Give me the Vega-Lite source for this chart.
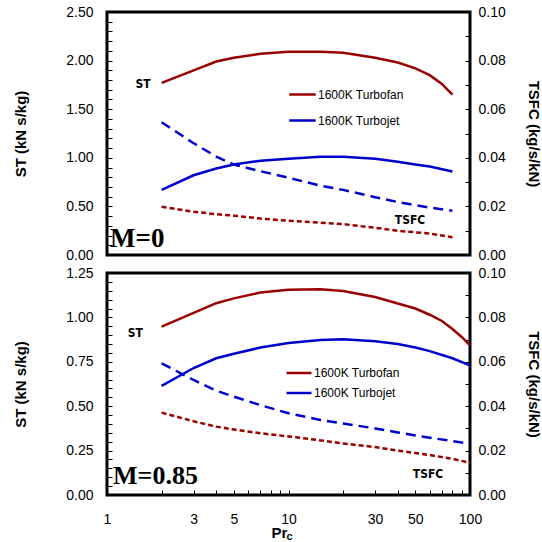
{
  "$schema": "https://vega.github.io/schema/vega-lite/v6.json",
  "padding": {"left": 12, "top": 3, "right": 0, "bottom": 0},
  "spacing": 0,
  "resolve": {"legend": {"color": "independent"}},
  "config": {
    "view": {"stroke": "black", "strokeWidth": 3},
    "axis": {"labelFont": "Liberation Sans", "labelFontSize": 14, "labelColor": "#000", "titleFont": "Liberation Sans", "titleFontSize": 15, "titleFontWeight": "bold", "titleColor": "#000", "grid": false, "domain": false, "tickColor": "#000", "tickSize": -5, "tickWidth": 1}
  },
  "datasets": {
    "d": [
      {"p": "top", "s": "1600K Turbofan", "m": "ST", "x": 2, "v": 1.77},
      {"p": "top", "s": "1600K Turbofan", "m": "ST", "x": 3, "v": 1.9},
      {"p": "top", "s": "1600K Turbofan", "m": "ST", "x": 4, "v": 1.99},
      {"p": "top", "s": "1600K Turbofan", "m": "ST", "x": 5, "v": 2.03},
      {"p": "top", "s": "1600K Turbofan", "m": "ST", "x": 7, "v": 2.07},
      {"p": "top", "s": "1600K Turbofan", "m": "ST", "x": 10, "v": 2.09},
      {"p": "top", "s": "1600K Turbofan", "m": "ST", "x": 15, "v": 2.09},
      {"p": "top", "s": "1600K Turbofan", "m": "ST", "x": 20, "v": 2.08},
      {"p": "top", "s": "1600K Turbofan", "m": "ST", "x": 30, "v": 2.03},
      {"p": "top", "s": "1600K Turbofan", "m": "ST", "x": 40, "v": 1.98},
      {"p": "top", "s": "1600K Turbofan", "m": "ST", "x": 50, "v": 1.92},
      {"p": "top", "s": "1600K Turbofan", "m": "ST", "x": 60, "v": 1.85},
      {"p": "top", "s": "1600K Turbofan", "m": "ST", "x": 70, "v": 1.76},
      {"p": "top", "s": "1600K Turbofan", "m": "ST", "x": 80, "v": 1.65},
      {"p": "top", "s": "1600K Turbojet", "m": "ST", "x": 2, "v": 0.67},
      {"p": "top", "s": "1600K Turbojet", "m": "ST", "x": 3, "v": 0.82},
      {"p": "top", "s": "1600K Turbojet", "m": "ST", "x": 4, "v": 0.89},
      {"p": "top", "s": "1600K Turbojet", "m": "ST", "x": 5, "v": 0.93},
      {"p": "top", "s": "1600K Turbojet", "m": "ST", "x": 7, "v": 0.97},
      {"p": "top", "s": "1600K Turbojet", "m": "ST", "x": 10, "v": 0.99},
      {"p": "top", "s": "1600K Turbojet", "m": "ST", "x": 15, "v": 1.01},
      {"p": "top", "s": "1600K Turbojet", "m": "ST", "x": 20, "v": 1.01},
      {"p": "top", "s": "1600K Turbojet", "m": "ST", "x": 30, "v": 0.99},
      {"p": "top", "s": "1600K Turbojet", "m": "ST", "x": 40, "v": 0.96},
      {"p": "top", "s": "1600K Turbojet", "m": "ST", "x": 50, "v": 0.93},
      {"p": "top", "s": "1600K Turbojet", "m": "ST", "x": 60, "v": 0.91},
      {"p": "top", "s": "1600K Turbojet", "m": "ST", "x": 80, "v": 0.86},
      {"p": "top", "s": "1600K Turbojet", "m": "TSFC", "x": 2, "v": 0.0546},
      {"p": "top", "s": "1600K Turbojet", "m": "TSFC", "x": 3, "v": 0.046},
      {"p": "top", "s": "1600K Turbojet", "m": "TSFC", "x": 4, "v": 0.0405},
      {"p": "top", "s": "1600K Turbojet", "m": "TSFC", "x": 5, "v": 0.0372},
      {"p": "top", "s": "1600K Turbojet", "m": "TSFC", "x": 7, "v": 0.0345},
      {"p": "top", "s": "1600K Turbojet", "m": "TSFC", "x": 10, "v": 0.0318},
      {"p": "top", "s": "1600K Turbojet", "m": "TSFC", "x": 15, "v": 0.0285},
      {"p": "top", "s": "1600K Turbojet", "m": "TSFC", "x": 20, "v": 0.0268},
      {"p": "top", "s": "1600K Turbojet", "m": "TSFC", "x": 30, "v": 0.0238},
      {"p": "top", "s": "1600K Turbojet", "m": "TSFC", "x": 40, "v": 0.0218},
      {"p": "top", "s": "1600K Turbojet", "m": "TSFC", "x": 50, "v": 0.0205},
      {"p": "top", "s": "1600K Turbojet", "m": "TSFC", "x": 60, "v": 0.0195},
      {"p": "top", "s": "1600K Turbojet", "m": "TSFC", "x": 80, "v": 0.0182},
      {"p": "top", "s": "1600K Turbofan", "m": "TSFC", "x": 2, "v": 0.0199},
      {"p": "top", "s": "1600K Turbofan", "m": "TSFC", "x": 3, "v": 0.0178},
      {"p": "top", "s": "1600K Turbofan", "m": "TSFC", "x": 4, "v": 0.0168},
      {"p": "top", "s": "1600K Turbofan", "m": "TSFC", "x": 5, "v": 0.0162},
      {"p": "top", "s": "1600K Turbofan", "m": "TSFC", "x": 7, "v": 0.015},
      {"p": "top", "s": "1600K Turbofan", "m": "TSFC", "x": 10, "v": 0.0141},
      {"p": "top", "s": "1600K Turbofan", "m": "TSFC", "x": 15, "v": 0.0133},
      {"p": "top", "s": "1600K Turbofan", "m": "TSFC", "x": 20, "v": 0.0127},
      {"p": "top", "s": "1600K Turbofan", "m": "TSFC", "x": 30, "v": 0.0112},
      {"p": "top", "s": "1600K Turbofan", "m": "TSFC", "x": 40, "v": 0.01},
      {"p": "top", "s": "1600K Turbofan", "m": "TSFC", "x": 60, "v": 0.0088},
      {"p": "top", "s": "1600K Turbofan", "m": "TSFC", "x": 80, "v": 0.0073},
      {"p": "bot", "s": "1600K Turbofan", "m": "ST", "x": 2, "v": 0.948},
      {"p": "bot", "s": "1600K Turbofan", "m": "ST", "x": 3, "v": 1.025},
      {"p": "bot", "s": "1600K Turbofan", "m": "ST", "x": 4, "v": 1.08},
      {"p": "bot", "s": "1600K Turbofan", "m": "ST", "x": 5, "v": 1.107},
      {"p": "bot", "s": "1600K Turbofan", "m": "ST", "x": 7, "v": 1.14},
      {"p": "bot", "s": "1600K Turbofan", "m": "ST", "x": 10, "v": 1.155},
      {"p": "bot", "s": "1600K Turbofan", "m": "ST", "x": 15, "v": 1.158},
      {"p": "bot", "s": "1600K Turbofan", "m": "ST", "x": 20, "v": 1.148},
      {"p": "bot", "s": "1600K Turbofan", "m": "ST", "x": 30, "v": 1.115},
      {"p": "bot", "s": "1600K Turbofan", "m": "ST", "x": 40, "v": 1.078},
      {"p": "bot", "s": "1600K Turbofan", "m": "ST", "x": 50, "v": 1.05},
      {"p": "bot", "s": "1600K Turbofan", "m": "ST", "x": 60, "v": 1.015},
      {"p": "bot", "s": "1600K Turbofan", "m": "ST", "x": 70, "v": 0.98},
      {"p": "bot", "s": "1600K Turbofan", "m": "ST", "x": 80, "v": 0.935},
      {"p": "bot", "s": "1600K Turbofan", "m": "ST", "x": 90, "v": 0.89},
      {"p": "bot", "s": "1600K Turbofan", "m": "ST", "x": 100, "v": 0.843},
      {"p": "bot", "s": "1600K Turbojet", "m": "ST", "x": 2, "v": 0.614},
      {"p": "bot", "s": "1600K Turbojet", "m": "ST", "x": 3, "v": 0.715},
      {"p": "bot", "s": "1600K Turbojet", "m": "ST", "x": 4, "v": 0.77},
      {"p": "bot", "s": "1600K Turbojet", "m": "ST", "x": 5, "v": 0.795},
      {"p": "bot", "s": "1600K Turbojet", "m": "ST", "x": 7, "v": 0.83},
      {"p": "bot", "s": "1600K Turbojet", "m": "ST", "x": 10, "v": 0.856},
      {"p": "bot", "s": "1600K Turbojet", "m": "ST", "x": 15, "v": 0.873},
      {"p": "bot", "s": "1600K Turbojet", "m": "ST", "x": 20, "v": 0.877},
      {"p": "bot", "s": "1600K Turbojet", "m": "ST", "x": 30, "v": 0.866},
      {"p": "bot", "s": "1600K Turbojet", "m": "ST", "x": 40, "v": 0.85},
      {"p": "bot", "s": "1600K Turbojet", "m": "ST", "x": 50, "v": 0.83},
      {"p": "bot", "s": "1600K Turbojet", "m": "ST", "x": 60, "v": 0.81},
      {"p": "bot", "s": "1600K Turbojet", "m": "ST", "x": 80, "v": 0.77},
      {"p": "bot", "s": "1600K Turbojet", "m": "ST", "x": 100, "v": 0.73},
      {"p": "bot", "s": "1600K Turbojet", "m": "TSFC", "x": 2, "v": 0.0593},
      {"p": "bot", "s": "1600K Turbojet", "m": "TSFC", "x": 3, "v": 0.0518},
      {"p": "bot", "s": "1600K Turbojet", "m": "TSFC", "x": 4, "v": 0.047},
      {"p": "bot", "s": "1600K Turbojet", "m": "TSFC", "x": 5, "v": 0.0443},
      {"p": "bot", "s": "1600K Turbojet", "m": "TSFC", "x": 7, "v": 0.0405},
      {"p": "bot", "s": "1600K Turbojet", "m": "TSFC", "x": 10, "v": 0.0368},
      {"p": "bot", "s": "1600K Turbojet", "m": "TSFC", "x": 15, "v": 0.0338},
      {"p": "bot", "s": "1600K Turbojet", "m": "TSFC", "x": 20, "v": 0.0322},
      {"p": "bot", "s": "1600K Turbojet", "m": "TSFC", "x": 30, "v": 0.03},
      {"p": "bot", "s": "1600K Turbojet", "m": "TSFC", "x": 40, "v": 0.0282},
      {"p": "bot", "s": "1600K Turbojet", "m": "TSFC", "x": 50, "v": 0.0268},
      {"p": "bot", "s": "1600K Turbojet", "m": "TSFC", "x": 60, "v": 0.0258},
      {"p": "bot", "s": "1600K Turbojet", "m": "TSFC", "x": 80, "v": 0.0243},
      {"p": "bot", "s": "1600K Turbojet", "m": "TSFC", "x": 100, "v": 0.0231},
      {"p": "bot", "s": "1600K Turbofan", "m": "TSFC", "x": 2, "v": 0.0371},
      {"p": "bot", "s": "1600K Turbofan", "m": "TSFC", "x": 3, "v": 0.0332},
      {"p": "bot", "s": "1600K Turbofan", "m": "TSFC", "x": 4, "v": 0.0308},
      {"p": "bot", "s": "1600K Turbofan", "m": "TSFC", "x": 5, "v": 0.0295},
      {"p": "bot", "s": "1600K Turbofan", "m": "TSFC", "x": 7, "v": 0.0278},
      {"p": "bot", "s": "1600K Turbofan", "m": "TSFC", "x": 10, "v": 0.0264},
      {"p": "bot", "s": "1600K Turbofan", "m": "TSFC", "x": 15, "v": 0.0246},
      {"p": "bot", "s": "1600K Turbofan", "m": "TSFC", "x": 20, "v": 0.0232},
      {"p": "bot", "s": "1600K Turbofan", "m": "TSFC", "x": 30, "v": 0.0216},
      {"p": "bot", "s": "1600K Turbofan", "m": "TSFC", "x": 40, "v": 0.02},
      {"p": "bot", "s": "1600K Turbofan", "m": "TSFC", "x": 50, "v": 0.0189},
      {"p": "bot", "s": "1600K Turbofan", "m": "TSFC", "x": 60, "v": 0.018},
      {"p": "bot", "s": "1600K Turbofan", "m": "TSFC", "x": 80, "v": 0.0163},
      {"p": "bot", "s": "1600K Turbofan", "m": "TSFC", "x": 100, "v": 0.0145}
    ],
    "ann": [
      {"p": "top", "k": "lbl", "t": "ST", "x": 1.58, "v": 1.76},
      {"p": "top", "k": "lbl", "t": "TSFC", "x": 46.7, "v": 0.36},
      {"p": "top", "k": "mach", "t": "M=0", "x": 1.04, "v": 0.165},
      {"p": "bot", "k": "lbl", "t": "ST", "x": 1.43, "v": 0.912},
      {"p": "bot", "k": "lbl", "t": "TSFC", "x": 58.7, "v": 0.118},
      {"p": "bot", "k": "mach", "t": "M=0.85", "x": 1.08, "v": 0.107},
      {"p": "bot", "k": "sub", "t": "c", "x": 9.75, "v": -0.237}
    ]
  },
  "vconcat": [
    {
      "width": 363,
      "height": 243,
      "layer": [
        {
          "data": {"name": "d"},
          "transform": [{"filter": "datum.p == 'top' && datum.m == 'ST'"}],
          "mark": {"type": "line", "strokeWidth": 2.5},
          "encoding": {
            "x": {"field": "x", "type": "quantitative", "scale": {"type": "log", "domain": [1, 100], "nice": false}, "axis": null},
            "y": {"field": "v", "type": "quantitative", "scale": {"domain": [0, 2.5], "nice": false, "zero": false}, "axis": {"orient": "left", "title": "ST (kN s/kg)", "values": [0, 0.1, 0.2, 0.3, 0.4, 0.5, 0.6, 0.7, 0.8, 0.9, 1, 1.1, 1.2, 1.3, 1.4, 1.5, 1.6, 1.7, 1.8, 1.9, 2, 2.1, 2.2, 2.3, 2.4, 2.5], "labelExpr": "abs(datum.value * 2 - round(datum.value * 2)) < 0.001 ? format(datum.value, '.2f') : ''", "labelPadding": 19, "titlePadding": 37}},
            "color": {"field": "s", "type": "nominal", "scale": {"domain": ["1600K Turbofan", "1600K Turbojet"], "range": ["#990000", "#0000CC"]}, "legend": {"orient": "none", "legendX": 181, "legendY": 68, "title": null, "symbolType": "stroke", "symbolSize": 700, "symbolStrokeWidth": 2.5, "labelFont": "Liberation Sans", "labelFontSize": 12, "labelColor": "#000", "labelOffset": 1, "rowPadding": 5, "padding": 0}}
          }
        },
        {
          "data": {"name": "d"},
          "transform": [{"filter": "datum.p == 'top' && datum.m == 'TSFC' && datum.s == '1600K Turbofan'"}],
          "mark": {"type": "line", "strokeWidth": 2.5, "color": "#990000", "strokeDash": [5, 3]},
          "encoding": {
            "x": {"field": "x", "type": "quantitative", "scale": {"type": "log", "domain": [1, 100], "nice": false}},
            "y": {"field": "v", "type": "quantitative", "scale": {"domain": [0, 0.1], "nice": false, "zero": false}, "axis": {"orient": "right", "title": "TSFC (kg/s/kN)", "values": [0, 0.01, 0.02, 0.03, 0.04, 0.05, 0.06, 0.07, 0.08, 0.09, 0.1], "labelExpr": "round(datum.value * 100) % 2 == 0 ? format(datum.value, '.2f') : ''", "labelPadding": 13, "titlePadding": 20}}
          }
        },
        {
          "data": {"name": "d"},
          "transform": [{"filter": "datum.p == 'top' && datum.m == 'TSFC' && datum.s == '1600K Turbojet'"}],
          "mark": {"type": "line", "strokeWidth": 2.5, "color": "#0000CC", "strokeDash": [10, 6]},
          "encoding": {
            "x": {"field": "x", "type": "quantitative", "scale": {"type": "log", "domain": [1, 100], "nice": false}},
            "y": {"field": "v", "type": "quantitative", "scale": {"domain": [0, 0.1], "nice": false, "zero": false}, "axis": null}
          }
        },
        {
          "data": {"name": "ann"},
          "transform": [{"filter": "datum.p == 'top' && datum.k == 'lbl'"}],
          "mark": {"type": "text", "font": "DejaVu Sans Condensed", "fontWeight": "bold", "fontSize": 12, "color": "#000", "align": "center", "baseline": "middle"},
          "encoding": {
            "x": {"field": "x", "type": "quantitative", "scale": {"type": "log", "domain": [1, 100], "nice": false}},
            "y": {"field": "v", "type": "quantitative", "scale": {"domain": [0, 2.5], "nice": false, "zero": false}, "axis": null},
            "text": {"field": "t"}
          }
        },
        {
          "data": {"name": "ann"},
          "transform": [{"filter": "datum.p == 'top' && datum.k == 'mach'"}],
          "mark": {"type": "text", "font": "Liberation Serif", "fontWeight": "bold", "fontSize": 27, "color": "#000", "align": "left", "baseline": "middle"},
          "encoding": {
            "x": {"field": "x", "type": "quantitative", "scale": {"type": "log", "domain": [1, 100], "nice": false}},
            "y": {"field": "v", "type": "quantitative", "scale": {"domain": [0, 2.5], "nice": false, "zero": false}, "axis": null},
            "text": {"field": "t"}
          }
        }
      ],
      "resolve": {"scale": {"y": "independent"}}
    },
    {
      "width": 363,
      "height": 222,
      "layer": [
        {
          "data": {"name": "d"},
          "transform": [{"filter": "datum.p == 'bot' && datum.m == 'ST'"}],
          "mark": {"type": "line", "strokeWidth": 2.5},
          "encoding": {
            "x": {"field": "x", "type": "quantitative", "scale": {"type": "log", "domain": [1, 100], "nice": false}, "axis": {"title": "Pr", "titleX": 172, "titlePadding": -1, "values": [1, 2, 3, 4, 5, 6, 7, 8, 9, 10, 20, 30, 40, 50, 60, 70, 80, 90, 100], "labelExpr": "indexof([1, 3, 5, 10, 30, 50, 100], datum.value) >= 0 ? datum.value : ''", "labelPadding": 22, "labelFlush": false}},
            "y": {"field": "v", "type": "quantitative", "scale": {"domain": [0, 1.25], "nice": false, "zero": false}, "axis": {"orient": "left", "title": "ST (kN s/kg)", "values": [0, 0.05, 0.1, 0.15, 0.2, 0.25, 0.3, 0.35, 0.4, 0.45, 0.5, 0.55, 0.6, 0.65, 0.7, 0.75, 0.8, 0.85, 0.9, 0.95, 1, 1.05, 1.1, 1.15, 1.2, 1.25], "labelExpr": "abs(datum.value * 4 - round(datum.value * 4)) < 0.001 ? format(datum.value, '.2f') : ''", "labelPadding": 19, "titlePadding": 37}},
            "color": {"field": "s", "type": "nominal", "scale": {"domain": ["1600K Turbofan", "1600K Turbojet"], "range": ["#990000", "#0000CC"]}, "legend": {"orient": "none", "legendX": 178, "legendY": 86, "title": null, "symbolType": "stroke", "symbolSize": 625, "symbolStrokeWidth": 2.5, "labelFont": "Liberation Sans", "labelFontSize": 12, "labelColor": "#000", "labelOffset": 1, "rowPadding": 0, "padding": 0}}
          }
        },
        {
          "data": {"name": "d"},
          "transform": [{"filter": "datum.p == 'bot' && datum.m == 'TSFC' && datum.s == '1600K Turbofan'"}],
          "mark": {"type": "line", "strokeWidth": 2.5, "color": "#990000", "strokeDash": [5, 3]},
          "encoding": {
            "x": {"field": "x", "type": "quantitative", "scale": {"type": "log", "domain": [1, 100], "nice": false}},
            "y": {"field": "v", "type": "quantitative", "scale": {"domain": [0, 0.1], "nice": false, "zero": false}, "axis": {"orient": "right", "title": "TSFC (kg/s/kN)", "values": [0, 0.01, 0.02, 0.03, 0.04, 0.05, 0.06, 0.07, 0.08, 0.09, 0.1], "labelExpr": "round(datum.value * 100) % 2 == 0 ? format(datum.value, '.2f') : ''", "labelPadding": 13, "titlePadding": 20}}
          }
        },
        {
          "data": {"name": "d"},
          "transform": [{"filter": "datum.p == 'bot' && datum.m == 'TSFC' && datum.s == '1600K Turbojet'"}],
          "mark": {"type": "line", "strokeWidth": 2.5, "color": "#0000CC", "strokeDash": [10, 6]},
          "encoding": {
            "x": {"field": "x", "type": "quantitative", "scale": {"type": "log", "domain": [1, 100], "nice": false}},
            "y": {"field": "v", "type": "quantitative", "scale": {"domain": [0, 0.1], "nice": false, "zero": false}, "axis": null}
          }
        },
        {
          "data": {"name": "ann"},
          "transform": [{"filter": "datum.p == 'bot' && datum.k == 'lbl'"}],
          "mark": {"type": "text", "font": "DejaVu Sans Condensed", "fontWeight": "bold", "fontSize": 12, "color": "#000", "align": "center", "baseline": "middle"},
          "encoding": {
            "x": {"field": "x", "type": "quantitative", "scale": {"type": "log", "domain": [1, 100], "nice": false}},
            "y": {"field": "v", "type": "quantitative", "scale": {"domain": [0, 1.25], "nice": false, "zero": false}, "axis": null},
            "text": {"field": "t"}
          }
        },
        {
          "data": {"name": "ann"},
          "transform": [{"filter": "datum.p == 'bot' && datum.k == 'mach'"}],
          "mark": {"type": "text", "font": "Liberation Serif", "fontWeight": "bold", "fontSize": 26, "color": "#000", "align": "left", "baseline": "middle"},
          "encoding": {
            "x": {"field": "x", "type": "quantitative", "scale": {"type": "log", "domain": [1, 100], "nice": false}},
            "y": {"field": "v", "type": "quantitative", "scale": {"domain": [0, 1.25], "nice": false, "zero": false}, "axis": null},
            "text": {"field": "t"}
          }
        },
        {
          "data": {"name": "ann"},
          "transform": [{"filter": "datum.p == 'bot' && datum.k == 'sub'"}],
          "mark": {"type": "text", "font": "Liberation Sans", "fontWeight": "bold", "fontSize": 11, "color": "#000", "align": "left", "baseline": "middle"},
          "encoding": {
            "x": {"field": "x", "type": "quantitative", "scale": {"type": "log", "domain": [1, 100], "nice": false}},
            "y": {"field": "v", "type": "quantitative", "scale": {"domain": [0, 1.25], "nice": false, "zero": false}, "axis": null},
            "text": {"field": "t"}
          }
        }
      ],
      "resolve": {"scale": {"y": "independent"}}
    }
  ]
}
